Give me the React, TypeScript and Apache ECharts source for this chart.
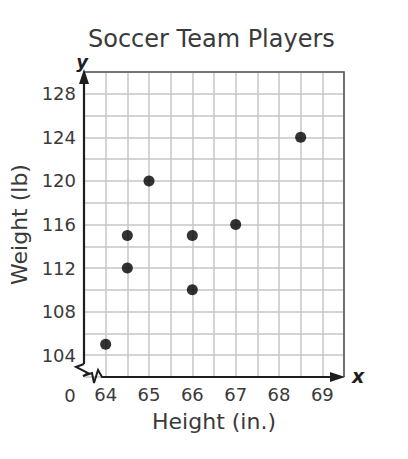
import React, { useEffect, useRef } from "react";
import * as echarts from "echarts";

const titleText = "Soccer Team Players";
const xName = "Height (in.)";
const yName = "Weight (lb)";
const heights = [64, 64.5, 64.5, 65, 66, 66, 67, 68.5];
const weights = [105, 112, 115, 120, 115, 110, 116, 124];
const xMin = 63.5;
const xMax = 69.5;
const xStep = 0.5;
const yMin = 102;
const yMax = 130;
const yStep = 2;
const xLabelValues = [64, 65, 66, 67, 68, 69];
const yLabelValues = [104, 108, 112, 116, 120, 124, 128];

const FONT = "DejaVu Sans";

export default function App() {
  const ref = useRef<HTMLDivElement>(null);
  useEffect(() => {
    if (!ref.current) return;
    const chart = echarts.init(ref.current, undefined, { renderer: "svg" });
    const points = heights.map((h, i) => [h, weights[i]]);
    chart.setOption({
      animation: false,
      backgroundColor: "#ffffff",
      title: {
        text: titleText,
        left: 88,
        top: 27,
        padding: 0,
        textStyle: { fontFamily: FONT, fontSize: 24, fontWeight: "normal", color: "#3a3a3a", lineHeight: 24 },
      },
      grid: { left: 83, top: 72, width: 261, height: 305, show: false },
      xAxis: {
        type: "value",
        min: xMin,
        max: xMax,
        interval: xStep,
        name: xName,
        nameLocation: "middle",
        nameGap: 33,
        nameTextStyle: { fontFamily: FONT, fontSize: 22, color: "#3a3a3a" },
        axisLine: { show: false },
        axisTick: { show: false },
        axisLabel: {
          fontFamily: FONT,
          fontSize: 18,
          color: "#3a3a3a",
          margin: 8,
          showMinLabel: true,
          showMaxLabel: true,
          formatter: (v: number) => (xLabelValues.indexOf(v) >= 0 ? String(v) : ""),
        },
        splitLine: { show: true, lineStyle: { color: "#c6c6c6", width: 1.5 } },
      },
      yAxis: {
        type: "value",
        min: yMin,
        max: yMax,
        interval: yStep,
        name: yName,
        nameLocation: "middle",
        nameGap: 54,
        nameTextStyle: { fontFamily: FONT, fontSize: 22, color: "#3a3a3a" },
        axisLine: { show: false },
        axisTick: { show: false },
        axisLabel: {
          fontFamily: FONT,
          fontSize: 18,
          color: "#3a3a3a",
          margin: 8,
          formatter: (v: number) => (yLabelValues.indexOf(v) >= 0 ? String(v) : ""),
        },
        splitLine: { show: true, lineStyle: { color: "#c6c6c6", width: 1.5 } },
      },
      series: [
        {
          type: "scatter",
          data: points,
          symbolSize: 11,
          itemStyle: { color: "#000000" },
          z: 10,
        },
      ],
    });

    const o = chart.convertToPixel({ gridIndex: 0 }, [xMin, yMin]) as number[];
    const tr = chart.convertToPixel({ gridIndex: 0 }, [xMax, yMax]) as number[];
    const x0 = o[0];
    const y0 = o[1];
    const x1 = tr[0];
    const y1 = tr[1];
    const axisColor = "#1e1e1e";
    chart.setOption({
      graphic: [
        {
          type: "polyline",
          shape: { points: [[x0, y1], [x1, y1], [x1, y0]] },
          style: { stroke: "#555", lineWidth: 1.6, fill: "none" },
          z: 50,
        },
        {
          type: "line",
          shape: { x1: x0, y1: y0 - 13, x2: x0, y2: y1 + 10 },
          style: { stroke: axisColor, lineWidth: 2.2 },
          z: 51,
        },
        {
          type: "polygon",
          shape: { points: [[x0, y1 - 3], [x0 - 5, y1 + 12], [x0 + 5, y1 + 12]] },
          style: { fill: axisColor },
          z: 52,
        },
        {
          type: "rect",
          shape: { x: x0 - 6, y: y0 - 13, width: 18, height: 12 },
          style: { fill: "#ffffff" },
          z: 49,
        },
        {
          type: "polyline",
          shape: {
            points: [
              [x0, y0 - 13],
              [x0 - 8, y0 - 10],
              [x0 + 4, y0 - 4],
              [x0 - 1, y0 - 1],
              [x0 + 8, y0 - 4],
              [x0 + 10, y0 + 6],
              [x0 + 14, y0 - 7],
              [x0 + 18, y0],
              [x1 - 12, y0],
            ],
          },
          style: { stroke: axisColor, lineWidth: 2, fill: "none", lineJoin: "miter" },
          z: 51,
        },
        {
          type: "polygon",
          shape: { points: [[x1 + 1, y0], [x1 - 14, y0 - 5], [x1 - 14, y0 + 5]] },
          style: { fill: axisColor },
          z: 52,
        },
        {
          type: "text",
          x: x0 - 2,
          y: y1 - 11,
          style: {
            text: "y",
            fontFamily: FONT,
            fontSize: 18,
            fontStyle: "italic",
            fontWeight: "bold",
            fill: "#1e1e1e",
            align: "center",
            verticalAlign: "middle",
          },
          z: 53,
        },
        {
          type: "text",
          x: x1 + 14,
          y: y0 - 1,
          style: {
            text: "x",
            fontFamily: FONT,
            fontSize: 19,
            fontStyle: "italic",
            fontWeight: "bold",
            fill: "#1e1e1e",
            align: "center",
            verticalAlign: "middle",
          },
          z: 53,
        },
        {
          type: "text",
          x: x0 - 14,
          y: y0 + 18,
          style: {
            text: "0",
            fontFamily: FONT,
            fontSize: 18,
            fill: "#3a3a3a",
            align: "center",
            verticalAlign: "middle",
          },
          z: 53,
        },
      ],
    });
    return () => chart.dispose();
  }, []);
  return (
    <div
      ref={ref}
      style={{ position: "absolute", left: 0, top: 0, width: 408, height: 459 }}
    />
  );
}
